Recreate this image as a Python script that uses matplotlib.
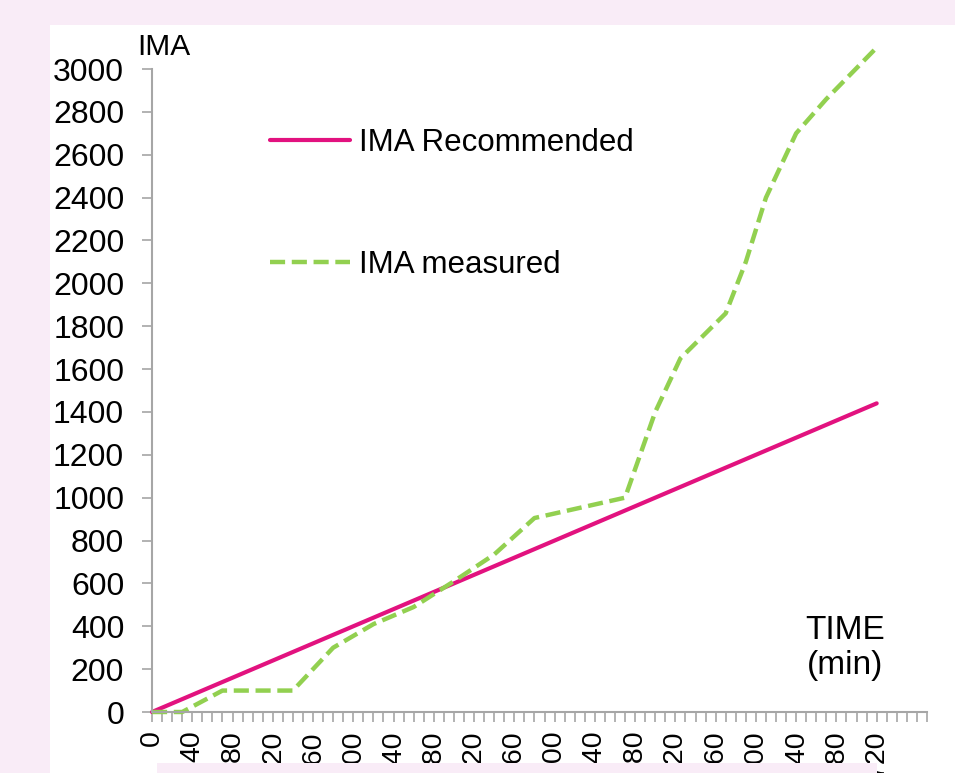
import matplotlib
matplotlib.use("Agg")
import matplotlib.pyplot as plt
from matplotlib.patches import Rectangle

# time in minutes
rec_time = [0, 40, 80, 120, 160, 200, 240, 280, 320, 360, 400, 440, 480, 520, 560, 600, 640, 680, 720]
rec_ima = [0, 80, 160, 240, 320, 400, 480, 560, 640, 720, 800, 880, 960, 1040, 1120, 1200, 1280, 1360, 1440]

meas_time = [0, 30, 70, 140, 180, 220, 260, 300, 340, 380, 470, 500, 525, 570, 590, 610, 640, 670, 720]
meas_ima = [0, 0, 100, 100, 300, 410, 490, 610, 735, 905, 1000, 1400, 1650, 1860, 2100, 2400, 2700, 2860, 3100]

x_labels = [str(t) for t in range(0, 721, 40)]

W, H = 955, 773
plt.rcParams["font.family"] = ["Liberation Sans", "DejaVu Sans"]
fig = plt.figure(figsize=(W / 100, H / 100), dpi=100)
fig.patch.set_facecolor("#F9ECF7")

# white panel behind the chart
fig.add_artist(Rectangle((50 / W, 0), 1, (H - 25) / H, transform=fig.transFigure,
                         facecolor="white", edgecolor="none", zorder=-1))

ax = fig.add_axes([152 / W, 61 / H, (927 - 152) / W, (712 - 69) / H])
ax.set_facecolor("none")

ax.plot(rec_time, rec_ima, color="#E2127F", lw=3, label="IMA Recommended",
        solid_capstyle="round", clip_on=False)
ax.plot(meas_time, meas_ima, color="#92D050", lw=3.2, dashes=(3.4, 1.5),
        label="IMA measured", clip_on=False)

ax.set_xlim(0, 770)
ax.set_ylim(0, 3000)
ax.set_yticks(range(0, 3001, 200))
ax.set_xticks(range(0, 721, 40))
ax.set_xticklabels(x_labels, rotation=90, va="top")
ax.set_xticks(range(0, 771, 10), minor=True)

for s in ["top", "right"]:
    ax.spines[s].set_visible(False)
for s in ["left", "bottom"]:
    ax.spines[s].set_color("#A6A6A6")
    ax.spines[s].set_linewidth(1.5)

ax.tick_params(axis="y", which="major", length=7, width=1.2, color="#A6A6A6",
               labelsize=23, pad=13)
ax.tick_params(axis="x", which="both", length=7, width=1.2, color="#A6A6A6",
               labelsize=20.5, pad=6)

fig.text(137 / W, 1 - 55 / H, "IMA", fontsize=21.5, ha="left", va="baseline")
fig.text(845 / W, 1 - 648 / H, "TIME\n(min)", fontsize=24, ha="center", va="center",
         linespacing=1.2)

ax.legend(loc="upper left", bbox_to_anchor=(270 / W, 1 - 128 / H),
          bbox_transform=fig.transFigure, frameon=False, fontsize=22.5,
          handlelength=2.55, handletextpad=0.3, labelspacing=2.95,
          borderpad=0, borderaxespad=0)

# pink strip at the bottom edge that cuts the tick labels
fig.add_artist(Rectangle((157 / W, 0), (877 - 157) / W, 10 / H, transform=fig.transFigure,
                         facecolor="#F9ECF7", edgecolor="none", zorder=10))

fig.savefig("out.png", dpi=100)
